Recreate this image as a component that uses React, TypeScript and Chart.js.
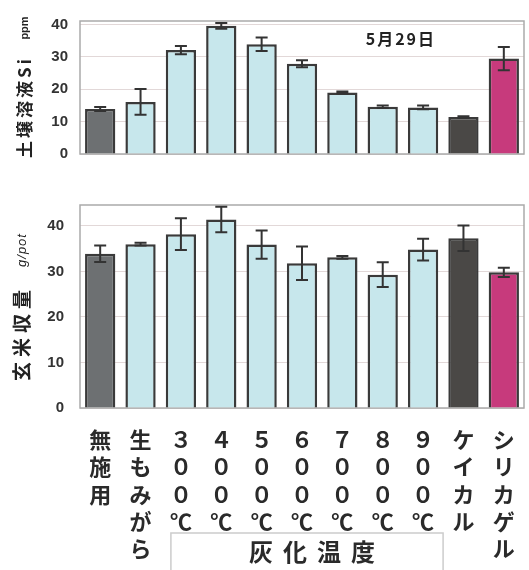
import { useEffect, useRef } from "react";
import { Chart, registerables } from "chart.js";
Chart.register(...registerables);

const categoryNames = ["無施用", "生もみがら", "３００℃", "４００℃", "５００℃", "６００℃", "７００℃", "８００℃", "９００℃", "ケイカル", "シリカゲル"];
const siValues = [13.9, 16.1, 32.1, 39.6, 33.9, 27.9, 19.0, 14.6, 14.4, 11.4, 29.5];
const siErrors = [0.6, 4.0, 1.3, 0.9, 2.1, 1.1, 0.3, 0.4, 0.6, 0.3, 3.6];
const yieldValues = [33.9, 36.0, 38.2, 41.4, 35.9, 31.8, 33.1, 29.3, 34.8, 37.3, 29.8];
const yieldErrors = [1.8, 0.3, 3.5, 2.8, 3.1, 3.7, 0.3, 2.7, 2.4, 2.8, 1.0];
const barColors = ["#6d7072", "#c7e7ec", "#c7e7ec", "#c7e7ec", "#c7e7ec", "#c7e7ec", "#c7e7ec", "#c7e7ec", "#c7e7ec", "#4a4846", "#c73a7c"];
const yTicks = [0, 10, 20, 30, 40];
const siTitle = "土壌溶液Si";
const siUnit = "ppm";
const yieldTitle = "玄米収量";
const yieldUnit = "g/pot";
const dateNote = "5月29日";
const groupLabel = "灰化温度";

const CJK = '"Noto Sans CJK JP", "Noto Sans", sans-serif';
const LAT = '"Liberation Sans", Arial, sans-serif';

function drawRotated(ctx: CanvasRenderingContext2D, text: string, x: number, y: number, font: string, spacing: string) {
  ctx.save();
  ctx.translate(x, y);
  ctx.rotate(-Math.PI / 2);
  ctx.font = font;
  (ctx as any).letterSpacing = spacing;
  ctx.fillStyle = "#222";
  ctx.textAlign = "center";
  ctx.textBaseline = "middle";
  ctx.fillText(text, 0, 0);
  ctx.restore();
}

function errorBarPlugin(values: number[], errors: number[]) {
  return {
    id: "errbars",
    afterDatasetsDraw(chart: any) {
      const ctx = chart.ctx as CanvasRenderingContext2D;
      const meta = chart.getDatasetMeta(0);
      const ys = chart.scales.y;
      ctx.save();
      ctx.strokeStyle = "#333";
      ctx.lineWidth = 2;
      meta.data.forEach((el: any, i: number) => {
        const x = el.x;
        const t = ys.getPixelForValue(values[i] + errors[i]);
        const b = ys.getPixelForValue(values[i] - errors[i]);
        ctx.beginPath();
        ctx.moveTo(x, t);
        ctx.lineTo(x, b);
        ctx.moveTo(x - 6, t);
        ctx.lineTo(x + 6, t);
        ctx.moveTo(x - 6, b);
        ctx.lineTo(x + 6, b);
        ctx.stroke();
      });
      ctx.restore();
    },
  };
}

const framePlugin = {
  id: "frame",
  beforeDatasetsDraw(chart: any) {
    const { ctx, chartArea: a } = chart;
    ctx.save();
    ctx.strokeStyle = "#aaaaaa";
    ctx.lineWidth = 1.5;
    ctx.strokeRect(a.left, a.top, a.right - a.left, a.bottom - a.top);
    ctx.restore();
  },
};

function yScale(max: number, pad: number): any {
  return {
    min: 0,
    max,
    afterBuildTicks: (s: any) => {
      s.ticks = yTicks.map((v) => ({ value: v }));
    },
    afterFit: (s: any) => {
      s.width = 80;
    },
    grid: { color: "#e2d8d8", drawTicks: false, lineWidth: 1 },
    border: { display: false },
    ticks: { padding: pad, color: "#333", font: { family: LAT, weight: "bold", size: 15 } },
  };
}

export default function App() {
  const topRef = useRef<HTMLCanvasElement>(null);
  const botRef = useRef<HTMLCanvasElement>(null);

  useEffect(() => {
    const labels = categoryNames.map((s) => Array.from(s));
    const topTitle = {
      id: "topTitle",
      afterDraw(chart: any) {
        const ctx = chart.ctx as CanvasRenderingContext2D;
        drawRotated(ctx, siTitle, 25, 107, `bold 17px ${CJK}`, "3px");
        drawRotated(ctx, siUnit, 25, 28, `bold 11px ${LAT}`, "0px");
        const xs = chart.scales.x;
        const ys = chart.scales.y;
        ctx.save();
        ctx.font = `bold 16px ${CJK}`;
        (ctx as any).letterSpacing = "2px";
        ctx.fillStyle = "#222";
        ctx.textAlign = "center";
        ctx.textBaseline = "middle";
        ctx.fillText(dateNote, xs.getPixelForValue(7.45), ys.getPixelForValue(35.5));
        ctx.restore();
      },
    };
    const top = new Chart(topRef.current!, {
      type: "bar",
      data: {
        labels,
        datasets: [
          {
            data: siValues,
            backgroundColor: barColors,
            borderColor: "#3a3a3a",
            borderWidth: 2.5,
            categoryPercentage: 1,
            barPercentage: 0.75,
          },
        ],
      },
      options: {
        animation: false,
        responsive: false,
        layout: { padding: { top: 13, bottom: 13, left: 0, right: 5 } },
        plugins: { legend: { display: false }, tooltip: { enabled: false } },
        scales: {
          x: { display: false },
          y: yScale(41.1, 12),
        },
      },
      plugins: [framePlugin, errorBarPlugin(siValues, siErrors), topTitle],
    });

    const botTitle = {
      id: "botTitle",
      afterDraw(chart: any) {
        const ctx = chart.ctx as CanvasRenderingContext2D;
        drawRotated(ctx, yieldTitle, 22, 153, `bold 19px ${CJK}`, "5px");
        drawRotated(ctx, yieldUnit, 22, 70, `italic 13px ${LAT}`, "1px");
        const xs = chart.scales.x;
        const left = xs.getPixelForValue(2) - 10;
        const right = xs.getPixelForValue(8) + 20;
        const h = chart.height;
        ctx.save();
        ctx.strokeStyle = "#cccccc";
        ctx.lineWidth = 1.5;
        ctx.strokeRect(left, 353, right - left, h - 353 + 4);
        ctx.font = `bold 24px ${CJK}`;
        (ctx as any).letterSpacing = "10px";
        ctx.fillStyle = "#2a2a2a";
        ctx.textAlign = "center";
        ctx.textBaseline = "middle";
        ctx.fillText(groupLabel, (left + right) / 2 + 10, 372);
        ctx.restore();
      },
    };
    const bot = new Chart(botRef.current!, {
      type: "bar",
      data: {
        labels,
        datasets: [
          {
            data: yieldValues,
            backgroundColor: barColors,
            borderColor: "#3a3a3a",
            borderWidth: 2.5,
            categoryPercentage: 1,
            barPercentage: 0.75,
          },
        ],
      },
      options: {
        animation: false,
        responsive: false,
        layout: { padding: { top: 13, bottom: 0, left: 0, right: 5 } },
        plugins: { legend: { display: false }, tooltip: { enabled: false } },
        scales: {
          x: {
            grid: { display: false },
            border: { display: false },
            afterFit: (s: any) => {
              s.height = 162;
            },
            ticks: {
              autoSkip: false,
              maxRotation: 0,
              minRotation: 0,
              padding: 10,
              color: "#2a2a2a",
              font: { family: CJK, size: 22, weight: "bold", lineHeight: 1.24 },
            },
          },
          y: yScale(44.6, 16),
        },
      },
      plugins: [framePlugin, errorBarPlugin(yieldValues, yieldErrors), botTitle],
    });
    return () => {
      top.destroy();
      bot.destroy();
    };
  }, []);

  return (
    <div style={{ position: "absolute", left: 0, top: 0, width: 529, height: 570, background: "#fff" }}>
      <canvas ref={topRef} width={529} height={175} style={{ position: "absolute", left: 0, top: 0 }} />
      <canvas ref={botRef} width={529} height={390} style={{ position: "absolute", left: 0, top: 180 }} />
    </div>
  );
}
